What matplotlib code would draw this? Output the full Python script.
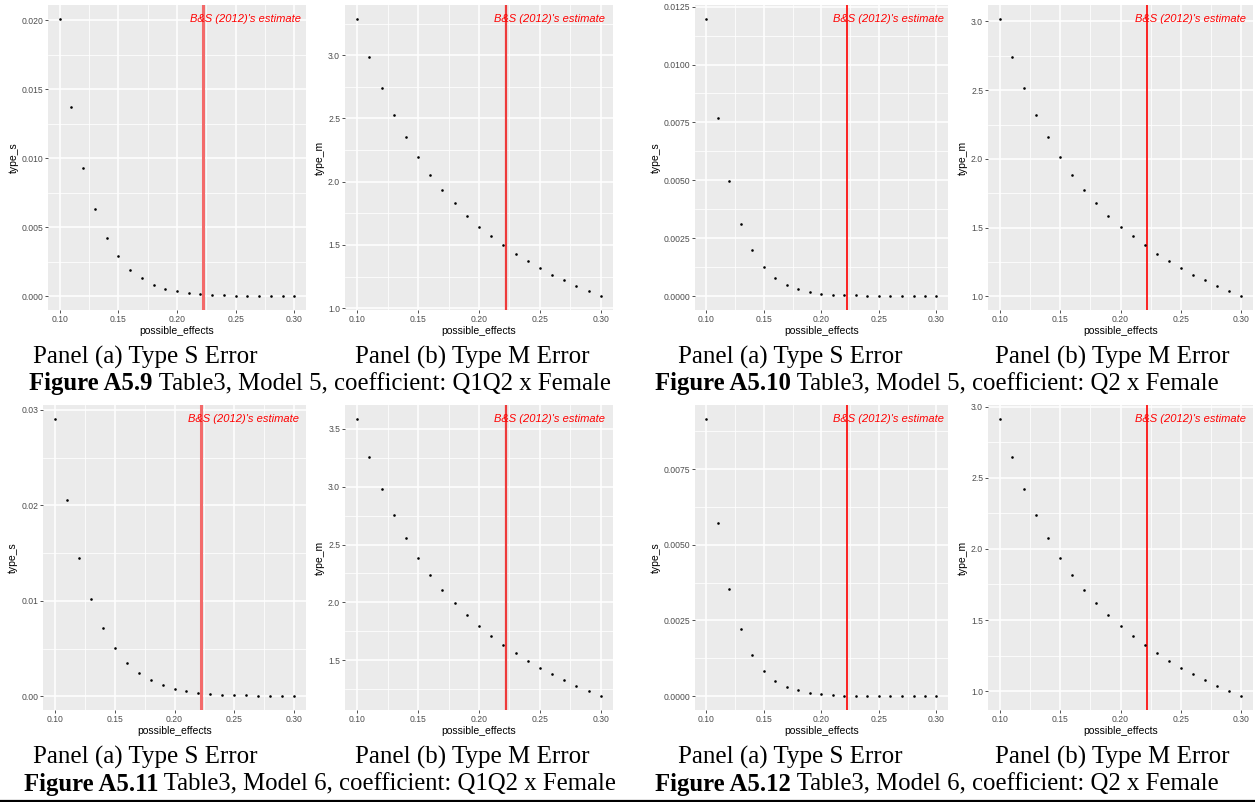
import numpy as np
import matplotlib
matplotlib.use("Agg")
import matplotlib.pyplot as plt
from matplotlib.lines import Line2D
from matplotlib.ticker import FormatStrFormatter, FixedLocator

plt.rcParams["font.family"] = ["Liberation Sans", "DejaVu Sans"]

W, H = 1255, 802

possible_effects = [0.10, 0.11, 0.12, 0.13, 0.14, 0.15, 0.16, 0.17, 0.18, 0.19, 0.20,
                    0.21, 0.22, 0.23, 0.24, 0.25, 0.26, 0.27, 0.28, 0.29, 0.30]
bs_estimate = 0.2224

# Figure A5.9
type_s_a59 = [0.0201, 0.0137, 0.0093, 0.0063, 0.0042, 0.0029, 0.0019, 0.0013, 0.0008, 0.00053,
              0.00038, 0.00025, 0.00017, 0.00011, 0.00007, 0.00005, 0.00003, 0.00002, 0.00001,
              0.00001, 0.000005]
type_m_a59 = [3.288, 2.989, 2.744, 2.530, 2.355, 2.197, 2.057, 1.935, 1.832, 1.729, 1.642,
              1.571, 1.499, 1.428, 1.373, 1.317, 1.262, 1.222, 1.174, 1.135, 1.095]
# Figure A5.10
type_s_a510 = [0.01197, 0.00768, 0.00495, 0.00313, 0.00201, 0.00127, 0.00079, 0.00049, 0.00031,
               0.00019, 0.00011, 0.00007, 0.00004, 0.00003, 0.00002, 0.00001, 0.00001, 0.000005,
               0.000003, 0.000002, 0.000001]
type_m_a510 = [3.019, 2.745, 2.519, 2.322, 2.162, 2.016, 1.885, 1.775, 1.680, 1.586, 1.505,
               1.440, 1.374, 1.309, 1.258, 1.207, 1.156, 1.119, 1.075, 1.039, 1.002]
# Figure A5.11
type_s_a511 = [0.02906, 0.02057, 0.01450, 0.01020, 0.00716, 0.00506, 0.00349, 0.00245, 0.00171,
               0.00119, 0.00077, 0.00056, 0.00035, 0.00024, 0.00015, 0.00013, 0.00008, 0.00007,
               0.00006, 0.00005, 0.00001]
type_m_a511 = [3.586, 3.259, 2.983, 2.759, 2.560, 2.388, 2.241, 2.103, 1.991, 1.888, 1.793,
               1.707, 1.629, 1.560, 1.491, 1.431, 1.379, 1.328, 1.276, 1.233, 1.190]
# Figure A5.12
type_s_a512 = [0.00916, 0.00572, 0.00354, 0.00222, 0.00136, 0.00083, 0.00050, 0.00030, 0.00020,
               0.00010, 0.00007, 0.00004, 0.00002, 0.00001, 0.00001, 0.00001, 0.00001, 0.00001,
               0.000005, 0.000003, 0.000001]
type_m_a512 = [2.914, 2.647, 2.423, 2.241, 2.079, 1.939, 1.820, 1.708, 1.617, 1.533, 1.456,
               1.386, 1.322, 1.266, 1.210, 1.161, 1.119, 1.077, 1.035, 1.000, 0.965]

panel_labels = ["Panel (a) Type S Error", "Panel (b) Type M Error"]
fig_numbers = ["Figure A5.9", "Figure A5.10", "Figure A5.11", "Figure A5.12"]
fig_titles = [" Table3, Model 5, coefficient: Q1Q2 x Female",
              " Table3, Model 5, coefficient: Q2 x Female",
              " Table3, Model 6, coefficient: Q1Q2 x Female",
              " Table3, Model 6, coefficient: Q2 x Female"]
annot_text = "B&S (2012)'s estimate"

fig = plt.figure(figsize=(W / 100, H / 100), dpi=100)
fig.patch.set_facecolor("white")

def px_axes(left, right, top, bottom):
    return fig.add_axes([left / W, 1 - bottom / H, (right - left) / W, (bottom - top) / H])

def gg_panel(ax, y, ylabel, yticks, yfmt, lw_line, line_color):
    x = np.array(possible_effects)
    y = np.array(y)
    ax.set_facecolor("#EBEBEB")
    xr = x.max() - x.min()
    yr = y.max() - y.min()
    ax.set_xlim(x.min() - 0.05 * xr, x.max() + 0.05 * xr)
    ax.set_ylim(y.min() - 0.05 * yr, y.max() + 0.05 * yr)
    xt = [0.10, 0.15, 0.20, 0.25, 0.30]
    ax.xaxis.set_major_locator(FixedLocator(xt))
    ax.xaxis.set_minor_locator(FixedLocator([0.125, 0.175, 0.225, 0.275]))
    ax.yaxis.set_major_locator(FixedLocator(yticks))
    ymin = [(a + b) / 2 for a, b in zip(yticks[:-1], yticks[1:])]
    step = yticks[1] - yticks[0]
    ymin = [yticks[0] - step / 2] + ymin + [yticks[-1] + step / 2]
    ax.yaxis.set_minor_locator(FixedLocator(ymin))
    ax.xaxis.set_major_formatter(FormatStrFormatter("%.2f"))
    ax.yaxis.set_major_formatter(FormatStrFormatter(yfmt))
    ax.grid(which="major", color="white", linewidth=1.1)
    ax.grid(which="minor", color="white", linewidth=0.55)
    ax.set_axisbelow(True)
    for s in ax.spines.values():
        s.set_visible(False)
    ax.tick_params(which="major", length=2, width=0.6, color="#333333",
                   labelsize=6.2, labelcolor="#4D4D4D", pad=1.5)
    ax.tick_params(which="minor", length=0)
    ax.scatter(x, y, s=3.5, color="black", linewidths=0, zorder=3)
    ax.axvline(bs_estimate, color=line_color, linewidth=lw_line, zorder=2)
    ax.text(0.258, y.max(), annot_text, color="red", fontsize=8, fontstyle="italic",
            ha="center", va="center", zorder=4)
    ax.set_xlabel("possible_effects", fontsize=7.5, labelpad=1.5)
    ax.set_ylabel(ylabel, fontsize=7.5, labelpad=2)

rects = [(48, 306, 5, 310), (345, 613, 5, 310), (695, 948, 5, 310), (988, 1253, 5, 310),
         (43, 306, 405, 710), (345, 613, 405, 710), (695, 948, 405, 710), (988, 1253, 405, 710)]
series = [
    (type_s_a59, "type_s", [0.0, 0.005, 0.010, 0.015, 0.020], "%.3f", 2.2, "#F36A6A"),
    (type_m_a59, "type_m", [1.0, 1.5, 2.0, 2.5, 3.0], "%.1f", 1.6, "#EE3B3B"),
    (type_s_a510, "type_s", [0.0, 0.0025, 0.005, 0.0075, 0.010, 0.0125], "%.4f", 1.2, "red"),
    (type_m_a510, "type_m", [1.0, 1.5, 2.0, 2.5, 3.0], "%.1f", 1.2, "red"),
    (type_s_a511, "type_s", [0.0, 0.01, 0.02, 0.03], "%.2f", 2.2, "#F36A6A"),
    (type_m_a511, "type_m", [1.5, 2.0, 2.5, 3.0, 3.5], "%.1f", 1.6, "#EE3B3B"),
    (type_s_a512, "type_s", [0.0, 0.0025, 0.005, 0.0075], "%.4f", 1.2, "red"),
    (type_m_a512, "type_m", [1.0, 1.5, 2.0, 2.5, 3.0], "%.1f", 1.2, "red"),
]
for r, (y, lab, yt, fmt, lw, lc) in zip(rects, series):
    ax = px_axes(*r)
    gg_panel(ax, y, lab, yt, fmt, lw, lc)

serif = "Liberation Serif"
# captions
cap_rows = [(357, 384), (757, 784)]
panel_x = [(145, 472), (790, 1112)]
fig_x = [320, 937]
k = 0
for (py, fy) in cap_rows:
    for col in range(2):
        for j, label in enumerate(panel_labels):
            fig.text(panel_x[col][j] / W, 1 - py / H, label, fontsize=18, family=serif,
                     ha="center", va="center")
        # figure caption: bold number + regular text
        t1 = fig.text(0, 1 - fy / H, fig_numbers[k], fontsize=17.8, family=serif,
                      fontweight="bold", ha="left", va="center")
        t2 = fig.text(0, 1 - fy / H, fig_titles[k], fontsize=17.8, family=serif,
                      ha="left", va="center")
        fig.canvas.draw()
        r = fig.canvas.get_renderer()
        w1 = t1.get_window_extent(r).width
        w2 = t2.get_window_extent(r).width
        start = fig_x[col] - (w1 + w2) / 2
        t1.set_x(start / W)
        t2.set_x((start + w1) / W)
        k += 1

fig.add_artist(Line2D([0, 1], [1 - 800.5 / H, 1 - 800.5 / H], color="black",
                      linewidth=1.6, transform=fig.transFigure))

fig.savefig("out.png", dpi=100, facecolor="white")
